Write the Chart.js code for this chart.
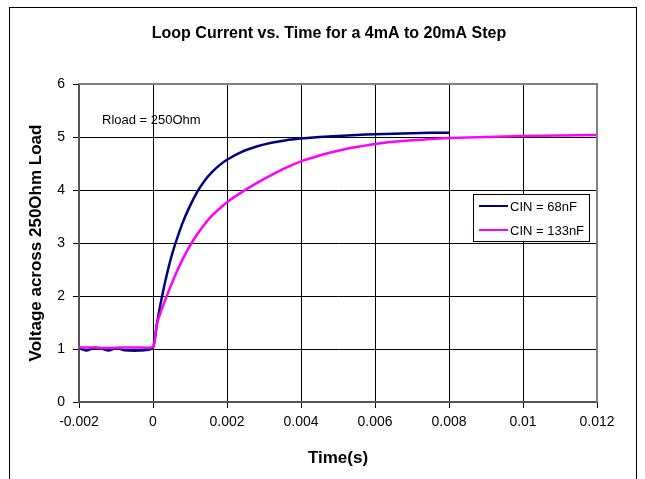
<!DOCTYPE html>
<html>
<head>
<meta charset="utf-8">
<script src="https://cdn.jsdelivr.net/npm/chart.js@4/dist/chart.umd.min.js"></script>
<style>
  html, body { margin: 0; padding: 0; background: #fff; }
  #wrap { width: 645px; height: 479px; position: relative; }
</style>
</head>
<body>
<div id="wrap"><canvas id="chart" width="645" height="479"></canvas></div>
<script>
// Chart data
const titleText = 'Loop Current vs. Time for a 4mA to 20mA Step'
const xTitle = 'Time(s)'
const yTitle = 'Voltage across 250Ohm Load'
const noteText = 'Rload = 250Ohm'

const xTicks = [-0.002, 0, 0.002, 0.004, 0.006, 0.008, 0.01, 0.012]
const yTicks = [0, 1, 2, 3, 4, 5, 6]

const cin68Label = 'CIN = 68nF'
const cin68Time = [
  -0.002, -0.0018, -0.0016, -0.0014, -0.0012, -0.001, -0.0008, -0.0006, -0.0004, -0.0002, 0,
  0.0001, 0.0002, 0.0003, 0.0004, 0.0005, 0.0006, 0.0008, 0.001, 0.0012, 0.0014, 0.0016,
  0.0018, 0.002, 0.0024, 0.0028, 0.0032, 0.0036, 0.004, 0.0045, 0.005, 0.0055, 0.006,
  0.0065, 0.007, 0.0075, 0.008
]
const cin68Volts = [
  1.02, 0.97, 1.02, 1.01, 0.97, 1.02, 0.98, 0.97, 0.97, 0.98, 1.02,
  1.45, 1.84, 2.18, 2.48, 2.75, 2.98, 3.38, 3.7, 3.97, 4.18, 4.34,
  4.47, 4.57, 4.72, 4.82, 4.89, 4.94, 4.97, 5.0, 5.02, 5.04, 5.05,
  5.06, 5.07, 5.08, 5.08
]

const cin133Label = 'CIN = 133nF'
const cin133Time = [
  -0.002, -0.0016, -0.0012, -0.0008, -0.0004, 0,
  0.0001, 0.0002, 0.0003, 0.0004, 0.0005, 0.0006, 0.0008, 0.001, 0.0012, 0.0014, 0.0016,
  0.0018, 0.002, 0.0024, 0.0028, 0.0032, 0.0036, 0.004, 0.0045, 0.005, 0.0055, 0.006,
  0.0065, 0.007, 0.0075, 0.008, 0.009, 0.01, 0.011, 0.012
]
const cin133Volts = [
  1.03, 1.03, 1.02, 1.03, 1.03, 1.04,
  1.45, 1.68, 1.87, 2.05, 2.22, 2.39, 2.69, 2.95, 3.17, 3.36, 3.52,
  3.65, 3.77, 3.96, 4.13, 4.28, 4.42, 4.54, 4.65, 4.74, 4.81, 4.87,
  4.91, 4.94, 4.96, 4.98, 5.0, 5.02, 5.03, 5.04
]

const navy = '#000080'
const magenta = '#ff00ff'
const font = 'Arial, "Liberation Sans", sans-serif'

function toPoints(xs, ys) {
  return xs.map((x, i) => ({ x: x, y: ys[i] }))
}

// frame, titles, note and legend box drawn on the canvas
const decorations = {
  id: 'decorations',
  beforeDraw(chart) {
    const ctx = chart.ctx
    ctx.save()
    ctx.fillStyle = '#fff'
    ctx.fillRect(0, 0, chart.width, chart.height)
    ctx.strokeStyle = '#000'
    ctx.lineWidth = 1
    ctx.strokeRect(9.5, 7.5, 627, 480)
    ctx.restore()
  },
  afterDatasetsDraw(chart) {
    const ctx = chart.ctx
    const a = chart.chartArea
    ctx.save()

    // grey plot border on top and right
    ctx.strokeStyle = '#808080'
    ctx.lineWidth = 2
    ctx.beginPath()
    ctx.moveTo(a.left, a.top)
    ctx.lineTo(a.right, a.top)
    ctx.lineTo(a.right, a.bottom)
    ctx.stroke()

    ctx.fillStyle = '#000'
    ctx.textBaseline = 'middle'

    ctx.font = 'bold 16px ' + font
    ctx.textAlign = 'center'
    ctx.fillText(titleText, 329, 34)

    ctx.font = 'bold 17px ' + font
    ctx.fillText(xTitle, (a.left + a.right) / 2, 458)

    ctx.save()
    ctx.translate(36, (a.top + a.bottom) / 2)
    ctx.rotate(-Math.PI / 2)
    ctx.fillText(yTitle, 0, 0)
    ctx.restore()

    ctx.font = '13px ' + font
    ctx.textAlign = 'left'
    ctx.fillText(noteText, 102, 120)

    // legend
    const lx = 473, ly = 194, lw = 116, lh = 47
    ctx.fillStyle = '#fff'
    ctx.fillRect(lx, ly, lw, lh)
    ctx.strokeStyle = '#000'
    ctx.lineWidth = 1
    ctx.strokeRect(lx + 0.5, ly + 0.5, lw, lh)
    const items = [[cin68Label, navy], [cin133Label, magenta]]
    items.forEach((it, i) => {
      const y = ly + 12 + i * 24
      ctx.strokeStyle = it[1]
      ctx.lineWidth = 2
      ctx.beginPath()
      ctx.moveTo(lx + 6, y)
      ctx.lineTo(lx + 35, y)
      ctx.stroke()
      ctx.fillStyle = '#000'
      ctx.fillText(it[0], lx + 37, y + 1)
    })
    ctx.restore()
  }
}

new Chart(document.getElementById('chart'), {
  type: 'line',
  data: {
    datasets: [
      {
        label: cin68Label,
        data: toPoints(cin68Time, cin68Volts),
        borderColor: navy,
        borderWidth: 2.5,
        pointRadius: 0,
        tension: 0.2,
        order: 1
      },
      {
        label: cin133Label,
        data: toPoints(cin133Time, cin133Volts),
        borderColor: magenta,
        borderWidth: 2.5,
        pointRadius: 0,
        tension: 0.2,
        order: 0
      }
    ]
  },
  options: {
    responsive: false,
    animation: false,
    devicePixelRatio: 1,
    layout: { padding: { top: 84, right: 48, left: 0, bottom: 0 } },
    plugins: {
      legend: { display: false },
      title: { display: false },
      tooltip: { enabled: false }
    },
    scales: {
      x: {
        type: 'linear',
        min: xTicks[0],
        max: xTicks[xTicks.length - 1],
        afterBuildTicks: (scale) => { scale.ticks = xTicks.map((v) => ({ value: v })) },
        afterFit: (scale) => { scale.height = 77 },
        ticks: {
          color: '#000',
          font: { family: font, size: 14 },
          padding: 6,
          maxRotation: 0,
          callback: (v) => String(v)
        },
        grid: { color: '#000', lineWidth: 1, tickLength: 6, tickColor: '#000' },
        border: { color: '#555', width: 2 }
      },
      y: {
        min: yTicks[0],
        max: yTicks[yTicks.length - 1],
        afterBuildTicks: (scale) => { scale.ticks = yTicks.map((v) => ({ value: v })) },
        afterFit: (scale) => { scale.width = 79 },
        ticks: {
          color: '#000',
          font: { family: font, size: 14 },
          padding: 8,
          callback: (v) => String(v)
        },
        grid: { color: '#000', lineWidth: 1, tickLength: 6, tickColor: '#000' },
        border: { color: '#555', width: 2 }
      }
    }
  },
  plugins: [decorations]
})
</script>
</body>
</html>
